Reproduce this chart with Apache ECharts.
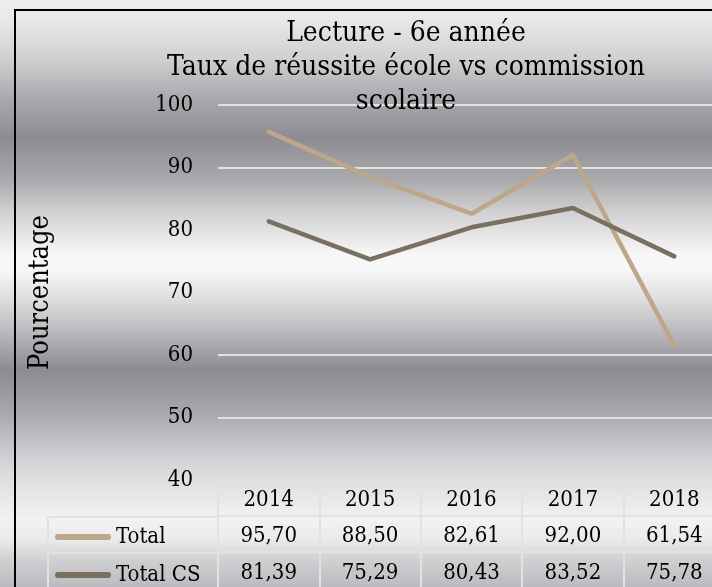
<!DOCTYPE html>
<html>
<head>
<meta charset="utf-8">
<script src="https://cdn.jsdelivr.net/npm/echarts@6/dist/echarts.min.js"></script>
<style>
  html, body { margin: 0; padding: 0; }
  #main { width: 712px; height: 587px; }
</style>
</head>
<body>
<div id="main"></div>
<script>
// données
var years = ["2014", "2015", "2016", "2017", "2018"];
var totalVals = [95.70, 88.50, 82.61, 92.00, 61.54];
var totalCsVals = [81.39, 75.29, 80.43, 83.52, 75.78];
var seriesNames = ["Total", "Total CS"];

var FONT = "'DejaVu Serif Condensed', 'DejaVu Serif', serif";
var gridCol = "#e2e2e2";
var fmt = function (v) { return v.toFixed(2).replace(".", ","); };

var chart = echarts.init(document.getElementById("main"));

// fond métallique
var bgStops = [
  [0, "#eeeeee"], [20, "#e8e8ea"], [60, "#cfcfd2"], [100, "#a8a8ac"],
  [138, "#8c8c92"], [180, "#aaaaae"], [213, "#d2d2d4"], [255, "#f7f7f7"],
  [270, "#f7f7f7"], [297, "#e0e0e2"], [330, "#bcbcc0"], [370, "#8b8b91"],
  [413, "#a8a8ac"], [447, "#c8c8cc"], [473, "#dcdcde"], [520, "#f2f2f2"],
  [540, "#eaeaea"], [560, "#d0d0d2"], [587, "#babac0"]
].map(function (s) { return { offset: s[0] / 587, color: s[1] }; });

function tableAxis(offset, labelFn, margin) {
  return {
    type: "category",
    gridIndex: 0,
    position: "bottom",
    offset: offset,
    data: years,
    boundaryGap: true,
    axisLine: { show: true, lineStyle: { color: gridCol, width: 2 } },
    axisTick: { show: true, interval: 0, length: 36, lineStyle: { color: gridCol, width: 2 } },
    axisLabel: {
      interval: 0, margin: margin, fontSize: 22, lineHeight: 22,
      fontFamily: FONT, color: "#000", formatter: labelFn
    },
    splitLine: { show: false }
  };
}

// une légende par ligne du tableau
function rowLegend(name, top) {
  return {
    orient: "vertical",
    left: 55,
    top: top,
    padding: 0,
    itemWidth: 56,
    itemHeight: 6,
    icon: "path://M3,0 H53 A3,3 0 0 1 53,6 H3 A3,3 0 0 1 3,0 Z",
    data: [name],
    selectedMode: false,
    textStyle: { fontFamily: FONT, fontSize: 22, color: "#000" }
  };
}

var option = {
  animation: false,
  backgroundColor: new echarts.graphic.LinearGradient(0, 0, 0, 1, bgStops),
  title: {
    text: "Lecture - 6e année\nTaux de réussite école vs commission\nscolaire",
    left: 406,
    top: 17,
    textAlign: "center",
    padding: 0,
    textStyle: { fontFamily: FONT, fontSize: 28, lineHeight: 34, fontWeight: "normal", color: "#000" }
  },
  grid: { left: 218, top: 105, width: 507, height: 375, containLabel: false, outerBoundsMode: "none" },
  legend: [rowLegend(seriesNames[0], 526), rowLegend(seriesNames[1], 564)],
  xAxis: [
    tableAxis(0, function (v) { return v; }, 9),
    tableAxis(36, function (v, i) { return fmt(totalVals[i]); }, 9),
    tableAxis(72, function (v, i) { return fmt(totalCsVals[i]); }, 10)
  ],
  yAxis: {
    type: "value",
    min: 40,
    max: 100,
    interval: 10,
    name: "Pourcentage",
    nameLocation: "middle",
    nameRotate: 90,
    nameGap: 164,
    nameTextStyle: { fontFamily: FONT, fontSize: 27, color: "#000" },
    axisLine: { show: false },
    axisTick: { show: false },
    axisLabel: { margin: 25, fontSize: 22, fontFamily: FONT, color: "#000" },
    splitLine: { show: true, lineStyle: { color: gridCol, width: 2 } }
  },
  graphic: [
    { type: "rect", shape: { x: 15, y: 10, width: 900, height: 700 },
      style: { fill: "none", stroke: "#000", lineWidth: 2 }, z: 100 },
    { type: "line", shape: { x1: 48, y1: 517, x2: 218, y2: 517 }, style: { stroke: gridCol, lineWidth: 2 } },
    { type: "line", shape: { x1: 48, y1: 553, x2: 218, y2: 553 }, style: { stroke: gridCol, lineWidth: 2 } },
    { type: "line", shape: { x1: 48, y1: 516, x2: 48, y2: 590 }, style: { stroke: gridCol, lineWidth: 2 } }
  ],
  series: [
    {
      name: seriesNames[0], type: "line", data: totalVals, xAxisIndex: 0,
      symbol: "none", color: "#bca78b",
      lineStyle: { color: "#bca78b", width: 4.5, cap: "round", join: "round" }
    },
    {
      name: seriesNames[1], type: "line", data: totalCsVals, xAxisIndex: 0,
      symbol: "none", color: "#787161",
      lineStyle: { color: "#787161", width: 4.5, cap: "round", join: "round" }
    }
  ]
};

chart.setOption(option);
</script>
</body>
</html>
